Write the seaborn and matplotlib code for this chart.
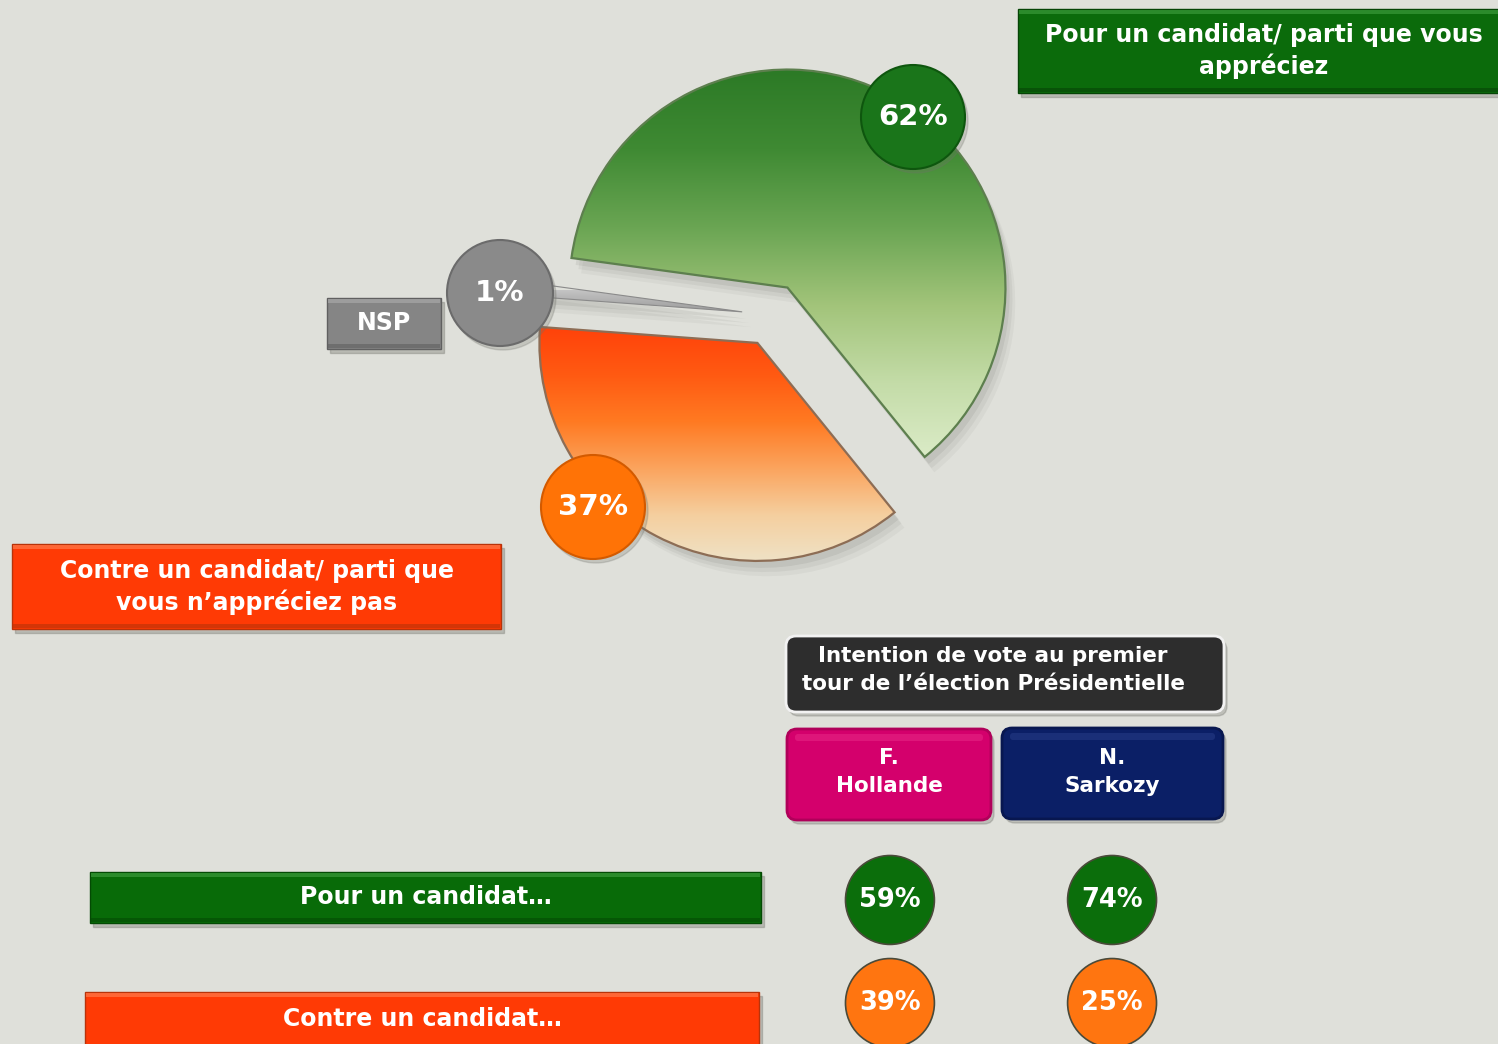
import numpy as np
import pandas as pd
import seaborn as sns
import matplotlib.pyplot as plt
from matplotlib.patches import Rectangle, FancyBboxPatch, Circle, Shadow
from matplotlib.colors import LinearSegmentedColormap

sns.set_theme(style='white')
plt.rcParams['font.family'] = ['DejaVu Sans']

W, H = 1498, 1044
BG = '#dfe0da'

# ---- data ----
pie_labels = ['Pour', 'NSP', 'Contre']
pie_values = [62, 1, 37]
candidats = ['F.\nHollande', 'N.\nSarkozy']
attitudes = ['Pour', 'Contre']
pour_vals = [59, 74]
contre_vals = [39, 25]


def Y(y):
    # pixel row (from top) -> data y (from bottom)
    return H - y


fig = plt.figure(figsize=(W / 100, H / 100), dpi=100, facecolor=BG)
ax = fig.add_axes([0, 0, 1, 1])
ax.set_facecolor(BG)

# ---- pie (explode is in data units here, i.e. pixels) ----
wedges, _ = ax.pie(pie_values, startangle=-51, counterclock=True, radius=218,
                   center=(772, Y(315)), explode=[31.5, 30, 31.5], frame=True,
                   colors=['#8fb86a', '#9a9a9a', '#ff7a2a'],
                   wedgeprops=dict(linewidth=1.6))

grad = np.linspace(0, 1, 256).reshape(-1, 1)
cmaps = [
    LinearSegmentedColormap.from_list('g', ['#2c7a26', '#3f8a33', '#6aa553', '#a2c47a',
                                            '#c4dca8', '#dcecc9']),
    LinearSegmentedColormap.from_list('n', ['#c4c4c4', '#8c8c8c']),
    LinearSegmentedColormap.from_list('o', ['#ff430a', '#ff5a12', '#ff7a22', '#fba45e',
                                            '#f5cf9f', '#efe2c6']),
]
extents = [(540, 1010, Y(462), Y(70)), (520, 760, Y(320), Y(290)),
           (530, 905, Y(562), Y(328))]
edges = ['#5d7f4e', '#8a8a8a', '#8d6d55']

for w, cm, ext, ec in zip(wedges, cmaps, extents, edges):
    for ox, oy, a in [(3, -5, 0.10), (5, -8, 0.08), (7, -11, 0.06)]:
        ax.add_patch(Shadow(w, ox, oy, facecolor='#5f605a', edgecolor='none',
                            alpha=a, zorder=1))
    im = ax.imshow(grad, cmap=cm, extent=ext, origin='upper', aspect='auto', zorder=2)
    im.set_clip_path(w)
    w.set_facecolor('none')
    w.set_edgecolor(ec)
    w.set_zorder(3)
wedges[1].set_linewidth(0.8)


def bubble(cx, cy, r, color, edge, label, fs):
    ax.add_patch(Circle((cx + 3, Y(cy) - 4), r, color='#70716a', alpha=0.25, zorder=4))
    ax.add_patch(Circle((cx, Y(cy)), r, facecolor=color, edgecolor=edge, lw=1.5, zorder=5))
    ax.text(cx, Y(cy), label, ha='center', va='center', color='white',
            fontsize=fs, fontweight='bold', zorder=6)


bubble(913, 117, 52, '#1a751a', '#0e560e', f'{pie_values[0]}%', 21)
bubble(500, 293, 53, '#8a8a8a', '#6b6b6b', f'{pie_values[1]}%', 21)
bubble(593, 507, 52, '#ff7306', '#d35a00', f'{pie_values[2]}%', 21)


def box(x0, y0, x1, y1, color, text, fs, round_=False, border=None,
        tx=None, ty=None, light=None, dark=None, ls=1.15):
    w, h = x1 - x0, y1 - y0
    if round_:
        ax.add_patch(FancyBboxPatch((x0 + 3, Y(y1) - 4), w, h,
                                    boxstyle='round,pad=0,rounding_size=10',
                                    color='#70716a', alpha=0.3, zorder=4))
        ax.add_patch(FancyBboxPatch((x0, Y(y1)), w, h,
                                    boxstyle='round,pad=0,rounding_size=10',
                                    facecolor=color, edgecolor=border or color,
                                    lw=2 if border else 0.5, zorder=5))
        if light:
            ax.add_patch(FancyBboxPatch((x0 + 8, Y(y0) - 12), w - 16, 7,
                                        boxstyle='round,pad=0,rounding_size=3',
                                        facecolor=light, edgecolor='none', alpha=0.25,
                                        zorder=5.5))
    else:
        ax.add_patch(Rectangle((x0 + 3, Y(y1) - 4), w, h, color='#70716a',
                               alpha=0.35, zorder=4))
        ax.add_patch(Rectangle((x0, Y(y1)), w, h, facecolor=color,
                               edgecolor=dark or color, lw=1, zorder=5))
        if light:
            ax.add_patch(Rectangle((x0 + 1, Y(y0) - 5), w - 2, 4, facecolor=light,
                                   edgecolor='none', alpha=0.7, zorder=5.5))
        if dark:
            ax.add_patch(Rectangle((x0 + 1, Y(y1) + 1), w - 2, 4, facecolor=dark,
                                   edgecolor='none', alpha=0.6, zorder=5.5))
    tx = (x0 + x1) / 2 if tx is None else tx
    ty = (y0 + y1) / 2 if ty is None else ty
    ax.text(tx, Y(ty), text, ha='center', va='center', color='white',
            fontsize=fs, fontweight='bold', linespacing=ls, zorder=6)


box(1018, 9, 1520, 93, '#0b6b0b', 'Pour un candidat/ parti que vous\nappréciez', 17,
    tx=1264, ty=51, light='#3a9a3a', dark='#064406', ls=1.32)
box(12, 544, 501, 629, '#ff3a05', 'Contre un candidat/ parti que\nvous n’appréciez pas', 17,
    ty=587, light='#ff7a4a', dark='#b8330a', ls=1.36)
box(327, 298, 441, 349, '#858585', pie_labels[1], 17, light='#a8a8a8', dark='#606060')
box(786, 636, 1224, 712, '#2d2d2d',
    'Intention de vote au premier\ntour de l’élection Présidentielle', 15.5,
    round_=True, border='#f2f2f2', tx=993, ty=670, ls=1.5)
box(787, 729, 991, 820, '#d4006c', candidats[0], 15.5, round_=True,
    border='#b0005a', light='#ff5aa5', ty=772, ls=1.5)
box(1002, 728, 1223, 819, '#0b1f66', candidats[1], 15.5, round_=True,
    border='#081750', light='#4a62b0', ty=772, ls=1.5)
box(90, 872, 761, 923, '#086b08', 'Pour un candidat…', 17,
    light='#3a9a3a', dark='#044a04')
box(85, 992, 759, 1060, '#ff3a05', 'Contre un candidat…', 17, ty=1019,
    light='#ff7a4a', dark='#b8330a')

ax.set_xlim(0, W)
ax.set_ylim(0, H)
ax.set_aspect('auto')
ax.axis('off')

# ---- bubble table (columns = candidates, rows = pour / contre) ----
tab_df = pd.DataFrame({
    'candidat': candidats * 2,
    'attitude': [attitudes[0]] * 2 + [attitudes[1]] * 2,
    'valeur': pour_vals + contre_vals,
})
tab = fig.add_axes([780 / W, 0, (1222 - 780) / W, (1044 - 850) / H])
tab.set_facecolor('none')
tab.patch.set_alpha(0)
sns.scatterplot(data=tab_df, x='candidat', y='attitude', hue='attitude',
                palette={'Pour': '#0b6e0b', 'Contre': '#ff7510'}, s=4100,
                edgecolor='#4a4a3a', linewidth=1.2, legend=False, ax=tab,
                clip_on=False, zorder=5)
for i, row in tab_df.iterrows():
    xi = candidats.index(row['candidat'])
    yi = attitudes.index(row['attitude'])
    tab.text(xi, yi, f"{row['valeur']}%", ha='center', va='center', color='white',
             fontsize=18.5, fontweight='bold', zorder=6)
tab.set_xlim(-0.495, 1.495)
tab.set_ylim(1.398, -0.485)
tab.axis('off')

fig.savefig('out.png', dpi=100, facecolor=BG)
